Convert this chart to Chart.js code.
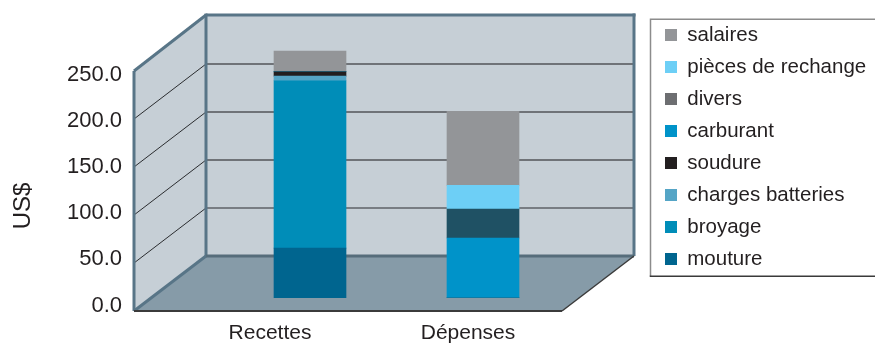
<!DOCTYPE html>
<html lang="fr">
<head>
<meta charset="utf-8">
<title>Recettes et dépenses (US$)</title>
<script src="https://cdn.jsdelivr.net/npm/chart.js@4.4.1/dist/chart.umd.min.js"></script>
<style>
  html, body { margin: 0; padding: 0; background: #ffffff; }
  #wrap { width: 875px; height: 345px; }
</style>
</head>
<body>
<div id="wrap"><canvas id="chart" width="875" height="345"></canvas></div>
<script>
// ---- data -----------------------------------------------------------------
const categories = ['Recettes', 'Dépenses'];

// one array per cost / revenue item, one value per category (US$)
const mouture          = [52.0, 0];
const broyage          = [174.3, 0];
const chargesBatteries = [4.9, 0];
const soudure          = [4.5, 0];
const carburant        = [0, 62.5];
const divers           = [0, 30.2];
const piecesRechange   = [0, 24.7];
const salaires         = [21.5, 77.1];

const yTicks = [0, 50, 100, 150, 200, 250];

// stacking order, bottom to top
const seriesNames  = ['mouture', 'broyage', 'charges batteries', 'soudure',
                      'carburant', 'divers', 'pièces de rechange', 'salaires'];
const seriesValues = [mouture, broyage, chargesBatteries, soudure,
                      carburant, divers, piecesRechange, salaires];

// ---- styling --------------------------------------------------------------
const barColors    = ['#00658f', '#008db8', '#55a5c6', '#231f20',
                      '#0093c9', '#1f5164', '#6dcff6', '#939598'];
const swatchColors = ['#00658f', '#008db8', '#55a5c6', '#231f20',
                      '#0093c9', '#6d6e71', '#6dcff6', '#939598'];

const FONT = "'Liberation Sans', Arial, Helvetica, sans-serif";
const TEXT = '#231f20';
const WALL = '#c6cfd6';
const FLOOR = '#869ba8';
const FRAME = '#587587';

// plotting area of the bar plane, in canvas pixels
const AREA = { left: 140, right: 653.5, top: 13.25, bottom: 298 };
// horizontal extent of the box at the bar plane, and the depth offsets
const PLANE = { left: 151, right: 579 };
const DEPTH = { back: { dx: 55, dy: -42 }, front: { dx: -17, dy: 13 } };

// linear axis range that puts value 0 at pixel p0 with `unit` pixels per step
function hRange(p0, unit) {
  return { min: (AREA.left - p0) / unit, max: (AREA.right - p0) / unit };
}
function vRange(p0, unit) {
  return { min: (p0 - AREA.bottom) / unit, max: (p0 - AREA.top) / unit };
}
const barX   = hRange(310, 173);      // bar centres
const labelX = hRange(270, 198);      // category captions on the front edge
const barY   = vRange(298, 0.96);     // values on the bar plane
const labelY = vRange(305.5, 0.924);  // value captions on the front edge

// ---- 3D box: walls, floor, grid and frame ---------------------------------
function poly(ctx, pts, fill) {
  ctx.beginPath();
  ctx.moveTo(pts[0][0], pts[0][1]);
  for (let i = 1; i < pts.length; i++) ctx.lineTo(pts[i][0], pts[i][1]);
  ctx.closePath();
  ctx.fillStyle = fill;
  ctx.fill();
}
function line(ctx, x1, y1, x2, y2, color, width) {
  ctx.beginPath();
  ctx.moveTo(x1, y1);
  ctx.lineTo(x2, y2);
  ctx.strokeStyle = color;
  ctx.lineWidth = width;
  ctx.stroke();
}

const box3d = {
  id: 'box3d',
  beforeDatasetsDraw(chart) {
    const ctx = chart.ctx;
    const y = chart.scales.y;
    const yb = v => y.getPixelForValue(v) + DEPTH.back.dy;
    const yf = v => y.getPixelForValue(v) + DEPTH.front.dy;
    const bl = PLANE.left + DEPTH.back.dx, br = PLANE.right + DEPTH.back.dx;
    const fl = PLANE.left + DEPTH.front.dx, fr = PLANE.right + DEPTH.front.dx;
    const top = yTicks[yTicks.length - 1];

    ctx.save();
    ctx.lineCap = 'butt';
    // back wall, side wall, floor
    poly(ctx, [[bl, yb(top)], [br, yb(top)], [br, yb(0)], [bl, yb(0)]], WALL);
    poly(ctx, [[fl, yf(0)], [fl, yf(top)], [bl, yb(top)], [bl, yb(0)]], WALL);
    poly(ctx, [[fl, yf(0)], [bl, yb(0)], [br, yb(0)], [fr, yf(0)]], FLOOR);

    // grid lines
    yTicks.slice(1, -1).forEach((v, i) => {
      const first = i === 0;
      line(ctx, bl, yb(v), br, yb(v), first ? '#2b2d30' : '#6f7378', first ? 1.2 : 2);
      line(ctx, fl, yf(v), bl, yb(v), '#2b2d30', 1);
    });

    // frame
    line(ctx, bl, yb(top) - 1, br + 1.5, yb(top) - 1, FRAME, 3);
    line(ctx, bl, yb(top) - 2.5, bl, yb(0), FRAME, 3);
    line(ctx, br, yb(top) - 2.5, br, yb(0), FRAME, 3);
    line(ctx, fl, yf(0), fl, yf(top), FRAME, 3);
    line(ctx, fl, yf(top), bl, yb(top) - 1, FRAME, 3);
    line(ctx, fl, yf(0), bl, yb(0), FRAME, 3);
    line(ctx, bl, yb(0), br, yb(0), '#566d7b', 3);
    line(ctx, fl, yf(0), fr, yf(0), '#3b3b3b', 2);
    line(ctx, fr, yf(0), br, yb(0), '#3b3b3b', 1.5);
    ctx.restore();
  },
  afterDraw(chart) {
    const ctx = chart.ctx;
    const lg = chart.legend;
    ctx.save();
    // legend frame
    ctx.strokeStyle = '#8c8c8c';
    ctx.lineWidth = 1.5;
    ctx.beginPath();
    ctx.moveTo(lg.right + 20, lg.top + 6);
    ctx.lineTo(lg.left - 3, lg.top + 6);
    ctx.lineTo(lg.left - 3, lg.top + 263);
    ctx.stroke();
    line(ctx, lg.left - 3.75, lg.top + 263, lg.right + 20, lg.top + 263, '#3a3a3a', 1.5);

    // value axis title
    ctx.translate(23, 206);
    ctx.rotate(-Math.PI / 2);
    ctx.font = '24px ' + FONT;
    ctx.fillStyle = TEXT;
    ctx.textAlign = 'center';
    ctx.textBaseline = 'middle';
    ctx.fillText('US$', 0, 0);
    ctx.restore();
  }
};

// caption axes keep the plotting area where AREA puts it
function noOverflow(s) {
  s.paddingTop = 0;
  s.paddingBottom = 0;
  s.paddingLeft = 0;
  s.paddingRight = 0;
}

// ---- chart ----------------------------------------------------------------
const datasets = seriesNames.map((name, k) => ({
  label: name,
  data: seriesValues[k].map((v, i) => ({ x: i, y: v })),
  backgroundColor: barColors[k],
  borderWidth: 0,
  barThickness: 72,
  xAxisID: 'x',
  yAxisID: 'y'
}));

new Chart(document.getElementById('chart'), {
  type: 'bar',
  data: { datasets },
  plugins: [box3d],
  options: {
    responsive: false,
    animation: false,
    events: [],
    layout: { padding: { top: AREA.top, left: 0, right: 0, bottom: 0 } },
    scales: {
      x: {
        type: 'linear', display: false, stacked: true, bounds: 'data',
        offset: false, grid: { offset: false },
        min: barX.min, max: barX.max
      },
      y: {
        type: 'linear', display: false, stacked: true, bounds: 'data',
        min: barY.min, max: barY.max
      },
      xLabels: {
        type: 'linear', position: 'bottom', axis: 'x', bounds: 'data',
        offset: false,
        min: labelX.min, max: labelX.max,
        grid: { display: false, drawTicks: false, offset: false },
        border: { display: false },
        afterBuildTicks: s => { s.ticks = categories.map((c, i) => ({ value: i })); },
        ticks: {
          autoSkip: false, maxRotation: 0,
          padding: 23, color: TEXT, font: { family: FONT, size: 21 },
          callback: v => categories[v]
        },
        afterFit: s => { s.height = 345 - AREA.bottom; noOverflow(s); }
      },
      yLabels: {
        type: 'linear', position: 'left', axis: 'y', bounds: 'data',
        min: labelY.min, max: labelY.max,
        grid: { display: false, drawTicks: false },
        border: { display: false },
        afterBuildTicks: s => { s.ticks = yTicks.map(v => ({ value: v })); },
        ticks: {
          autoSkip: false,
          padding: 18, color: TEXT, font: { family: FONT, size: 22 },
          callback: v => v.toFixed(1)
        },
        afterFit: s => { s.width = AREA.left; noOverflow(s); }
      }
    },
    plugins: {
      tooltip: { enabled: false },
      legend: {
        position: 'right',
        align: 'start',
        reverse: true,
        maxWidth: 875 - AREA.right,
        labels: {
          boxWidth: 12,
          boxHeight: 12,
          padding: 11.5,
          color: TEXT,
          font: { family: FONT, size: 20.5 },
          generateLabels(chart) {
            const items = Chart.defaults.plugins.legend.labels.generateLabels(chart);
            items.forEach(it => {
              it.fillStyle = swatchColors[it.datasetIndex];
              it.strokeStyle = swatchColors[it.datasetIndex];
              it.lineWidth = 0;
            });
            return items;
          }
        }
      }
    }
  }
});
</script>
</body>
</html>
